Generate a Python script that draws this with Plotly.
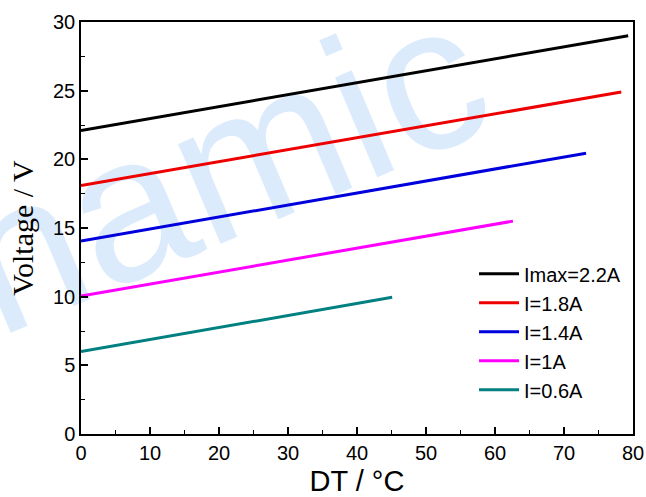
import plotly.graph_objects as go

# Data
series_names = ["Imax=2.2A", "I=1.8A", "I=1.4A", "I=1A", "I=0.6A"]
series_colors = ["#000000", "#ee0000", "#0000dd", "#ff00ff", "#008080"]
dt_black = [0, 40, 79.3]
v_black = [22.1, 25.6, 29.0]
dt_red = [0, 40, 78.3]
v_red = [18.1, 21.6, 24.9]
dt_blue = [0, 40, 73.2]
v_blue = [14.05, 17.55, 20.45]
dt_magenta = [0, 30, 62.6]
v_magenta = [10.05, 12.65, 15.5]
dt_teal = [0, 20, 45.1]
v_teal = [6.0, 7.75, 9.95]

xs = [dt_black, dt_red, dt_blue, dt_magenta, dt_teal]
ys = [v_black, v_red, v_blue, v_magenta, v_teal]

fig = go.Figure()
for name, col, x, y in zip(series_names, series_colors, xs, ys):
    fig.add_trace(go.Scatter(x=x, y=y, mode="lines", name=name,
                             line=dict(color=col, width=3)))

axis_common = dict(
    showgrid=False, zeroline=False, showline=True, linecolor="black",
    linewidth=1.5, mirror=True, ticks="inside", ticklen=7, tickwidth=1.5,
    tickcolor="black", automargin=False,
    tickfont=dict(family="Liberation Sans, Arial, sans-serif", size=20, color="black"),
)

fig.update_xaxes(range=[0, 80], dtick=10, tick0=0,
                 minor=dict(dtick=5, ticks="inside", ticklen=4, tickwidth=1.2, tickcolor="black"),
                 title=dict(text="DT / °C", standoff=11,
                            font=dict(family="Liberation Sans, Arial, sans-serif", size=29, color="black")),
                 **axis_common)
fig.update_yaxes(range=[0, 30], dtick=5, tick0=0,
                 minor=dict(dtick=2.5, ticks="inside", ticklen=4, tickwidth=1.2, tickcolor="black"),
                 title=dict(text="Voltage / V", standoff=11,
                            font=dict(family="Liberation Serif, Times New Roman, serif", size=30, color="black")),
                 **axis_common)

# faint watermark behind the data
fig.add_shape(type="rect", xref="paper", yref="paper", x0=-0.04, x1=0.104, y0=0.5, y1=0.65,
              line=dict(width=0), fillcolor="rgba(0,0,0,0)", layer="below",
              label=dict(text="Dynamic", textangle=-23, textposition="middle center",
                         font=dict(family="Liberation Sans, Arial, sans-serif", size=205,
                                   color="#dcebfc")))

fig.update_layout(
    width=646, height=497,
    margin=dict(l=81, r=13, t=22, b=63),
    paper_bgcolor="white", plot_bgcolor="rgba(0,0,0,0)",
    showlegend=True,
    legend=dict(x=0.712, y=0.436, xanchor="left", yanchor="top",
                bgcolor="rgba(0,0,0,0)", borderwidth=0, itemwidth=40,
                font=dict(family="Liberation Sans, Arial, sans-serif", size=20, color="black"),
                tracegroupgap=0),
)

fig.write_html("out.html")
